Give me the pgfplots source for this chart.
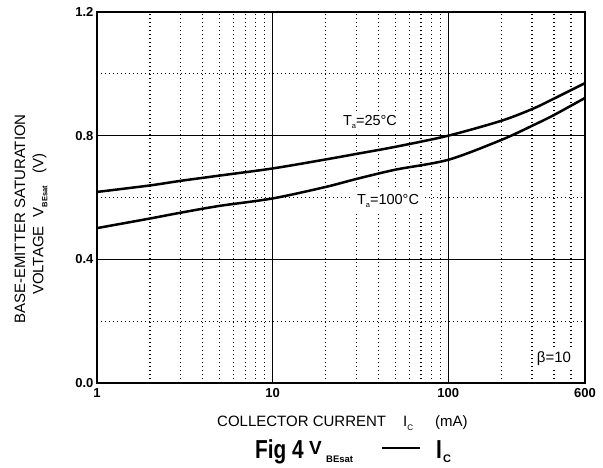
\documentclass[border=0pt]{standalone}
\usepackage{pgfplots}
\pgfplotsset{compat=1.18}
\usepackage{fontspec}
\setmainfont{Liberation Sans}
\usepackage{graphicx}
\begin{document}
\begin{tikzpicture}[x=1pt,y=1pt]
\path[use as bounding box] (-97,-84) rectangle (506,383);
\begin{axis}[
  at={(0,0)}, anchor=south west,
  scale only axis, width=488pt, height=371pt,
  xmode=log, xmin=1, xmax=600, ymin=0, ymax=1.2,
  xtick={1,10,100,600}, xticklabels={1,10,100,600},
  minor xtick={2,3,4,5,6,7,8,9,20,30,40,50,60,70,80,90,200,300,400,500},
  ytick={0,0.4,0.8,1.2}, yticklabels={0.0,0.4,0.8,1.2},
  minor ytick={0.2,0.6,1.0},
  major tick length=0pt, minor tick length=0pt,
  grid=both,
  major grid style={black, line width=1.2pt},
  minor grid style={black, line width=1.3pt, dash pattern=on 1.2pt off 2.8pt},
  axis line style={black, line width=1.6pt},
  /pgf/number format/assume math mode=true,
  ticklabel style={font=\bfseries\fontsize{13}{13}\selectfont},
  xticklabel style={yshift=-2pt},
  yticklabel style={xshift=0pt},
]
\addplot[black, line width=2.5pt, smooth, tension=0.5] coordinates {
 (1,0.618) (2,0.639) (3,0.654) (5,0.671) (10,0.694) (20,0.723) (30,0.741) (50,0.764) (100,0.800) (200,0.848) (300,0.886) (400,0.920) (600,0.970)};
\addplot[black, line width=2.5pt, smooth, tension=0.5] coordinates {
 (1,0.501) (2,0.532) (3,0.551) (5,0.573) (10,0.597) (20,0.634) (30,0.660) (50,0.690) (100,0.722) (200,0.786) (300,0.832) (400,0.867) (600,0.922)};
\end{axis}
% curve labels
\node[fill=white, inner xsep=5pt, inner ysep=4pt, font=\fontsize{14.5}{14.5}\selectfont] at (273,261) {T\raisebox{-3.5pt}{\fontsize{7.5}{7.5}\selectfont a}=25°C};
\node[fill=white, inner xsep=5pt, inner ysep=4pt, font=\fontsize{14.5}{14.5}\selectfont] at (291,182) {T\raisebox{-3.5pt}{\fontsize{7.5}{7.5}\selectfont a}=100°C};
\node[fill=white, inner sep=3pt, font=\fontsize{15}{15}\selectfont] at (457,24) {β=10};
% y label
\node[rotate=90, font=\fontsize{15}{15}\selectfont] at (-77,164) {BASE-EMITTER SATURATION};
\node[rotate=90, font=\fontsize{15}{15}\selectfont] at (-57,159) {VOLTAGE\hspace{9pt}V\raisebox{-4pt}{\bfseries\fontsize{7.5}{7.5}\selectfont BEsat}\hspace{13pt}(V)};
% x label
\node[anchor=base west, inner sep=0pt, font=\fontsize{15}{15}\selectfont] at (120,-43) {COLLECTOR CURRENT};
\node[anchor=base west, inner sep=0pt, font=\fontsize{15}{15}\selectfont] at (306,-43) {I\raisebox{-4pt}{\fontsize{8}{8}\selectfont C}};
\node[anchor=base west, inner sep=0pt, font=\fontsize{15}{15}\selectfont] at (338,-43) {(mA)};
% title
\node[anchor=base west, inner sep=0pt] at (158,-75) {\scalebox{0.8}[1]{\bfseries\fontsize{26}{26}\selectfont Fig 4}};
\node[anchor=base west, inner sep=0pt] at (212,-71) {\bfseries\fontsize{19}{19}\selectfont V};
\node[anchor=base west, inner sep=0pt] at (229,-79) {\bfseries\fontsize{9.5}{9.5}\selectfont BEsat};
\draw[black, line width=1.8pt] (285,-65) -- (323,-65);
\node[anchor=base west, inner sep=0pt] at (339,-75) {\scalebox{0.8}[1]{\bfseries\fontsize{26}{26}\selectfont I}};
\node[anchor=base west, inner sep=0pt] at (346,-79) {\bfseries\fontsize{11}{11}\selectfont C};
\end{tikzpicture}
\end{document}
